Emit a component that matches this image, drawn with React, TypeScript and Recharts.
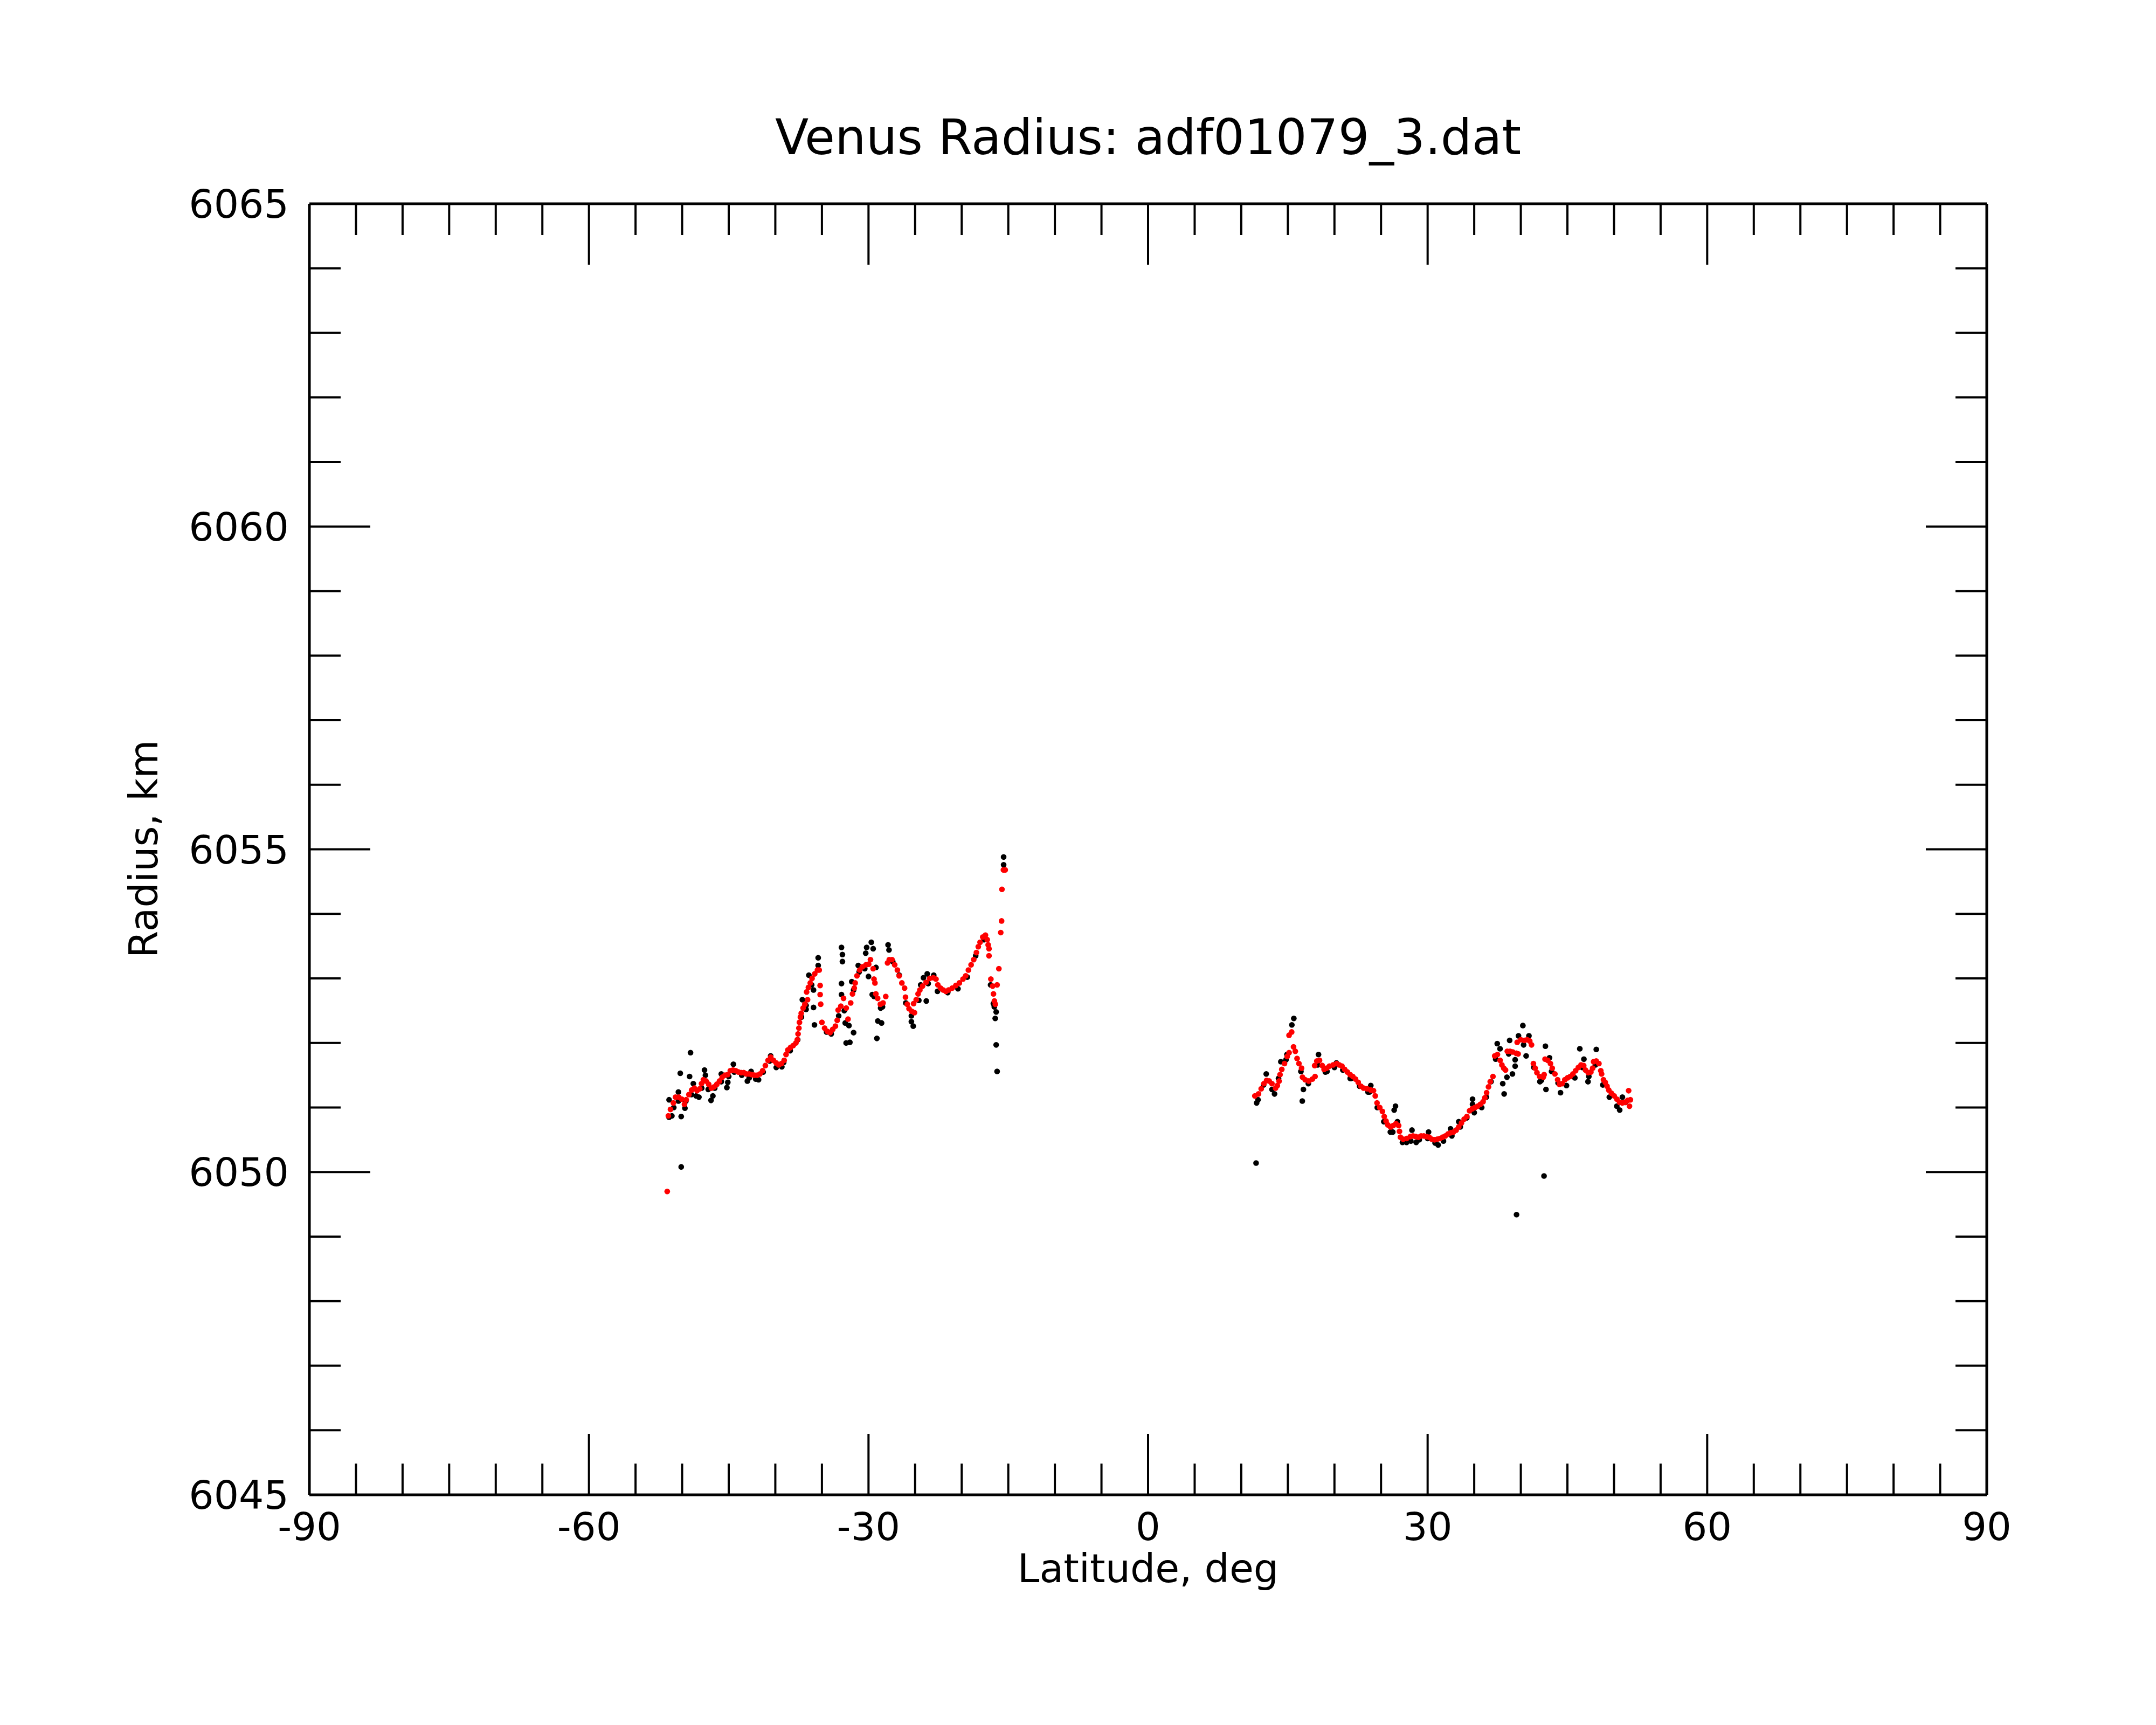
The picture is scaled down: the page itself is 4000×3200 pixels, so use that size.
import { Scatter, ScatterChart, XAxis, YAxis } from "recharts";

// smoothed radius (red), southern pass
const smoothSouth: [number, number][] = [
  [-51.6, 6049.7],
  [-51.48, 6050.87], [-51.25, 6050.97], [-50.94, 6051.07], [-50.71, 6051.16], [-50.37, 6051.16],
  [-50.04, 6051.13], [-49.75, 6051.05], [-49.56, 6051.12], [-49.27, 6051.2], [-48.98, 6051.27],
  [-48.69, 6051.3], [-48.4, 6051.26], [-48.11, 6051.29], [-47.92, 6051.37], [-47.72, 6051.43],
  [-47.43, 6051.41], [-47.15, 6051.36], [-46.86, 6051.3], [-46.57, 6051.32], [-46.28, 6051.36],
  [-45.99, 6051.41], [-45.7, 6051.47], [-45.41, 6051.5], [-45.12, 6051.51], [-44.83, 6051.57],
  [-44.54, 6051.58], [-44.25, 6051.57], [-43.96, 6051.55], [-43.67, 6051.54], [-43.39, 6051.54],
  [-43.1, 6051.52], [-42.81, 6051.52], [-42.52, 6051.51], [-42.23, 6051.5], [-41.94, 6051.5],
  [-41.65, 6051.52], [-41.36, 6051.57], [-41.07, 6051.65], [-40.78, 6051.73], [-40.49, 6051.78],
  [-40.2, 6051.73], [-39.91, 6051.69], [-39.63, 6051.66], [-39.34, 6051.68], [-39.05, 6051.73],
  [-38.85, 6051.82], [-38.66, 6051.89], [-38.37, 6051.93], [-38.08, 6051.96], [-37.79, 6052.0],
  [-37.64, 6052.05], [-37.56, 6052.14], [-37.47, 6052.23], [-37.41, 6052.32], [-37.31, 6052.4],
  [-37.22, 6052.46], [-37.02, 6052.54], [-36.83, 6052.6], [-36.54, 6052.67], [-36.64, 6052.79],
  [-36.45, 6052.86], [-36.25, 6052.93], [-36.06, 6053.0], [-35.77, 6053.07], [-35.48, 6053.13],
  [-35.29, 6053.13], [-35.19, 6052.89], [-35.19, 6052.75], [-35.13, 6052.6], [-35.0, 6052.32],
  [-34.71, 6052.23], [-34.42, 6052.18], [-34.13, 6052.16], [-33.84, 6052.21], [-33.55, 6052.26],
  [-33.36, 6052.35], [-33.26, 6052.51],
  [-32.97, 6052.57], [-32.68, 6052.69], [-32.39, 6052.54], [-32.2, 6052.37], [-31.91, 6052.62],
  [-31.72, 6052.76], [-31.53, 6052.85], [-31.43, 6052.93], [-31.24, 6053.04], [-30.95, 6053.13],
  [-30.66, 6053.18], [-30.27, 6053.21], [-29.98, 6053.22], [-29.79, 6053.29], [-29.5, 6053.15],
  [-29.41, 6052.99], [-29.31, 6052.93], [-29.21, 6052.76], [-29.02, 6052.69], [-28.73, 6052.6],
  [-28.44, 6052.62], [-28.15, 6052.72], [-27.96, 6053.24], [-27.77, 6053.29], [-27.48, 6053.29],
  [-27.19, 6053.21], [-26.9, 6053.13], [-26.71, 6053.04], [-26.42, 6052.93], [-26.13, 6052.85],
  [-26.03, 6052.71], [-25.84, 6052.6], [-25.65, 6052.53], [-25.36, 6052.49], [-25.07, 6052.47],
  [-25.16, 6052.61], [-24.88, 6052.67], [-24.68, 6052.76], [-24.49, 6052.82], [-24.2, 6052.88],
  [-23.82, 6052.94], [-23.43, 6053.0], [-23.04, 6053.01], [-22.76, 6052.99], [-22.56, 6052.9],
  [-22.27, 6052.85], [-21.98, 6052.82], [-21.7, 6052.8], [-21.41, 6052.82], [-21.02, 6052.85],
  [-20.63, 6052.89], [-20.25, 6052.93], [-19.86, 6052.99], [-19.57, 6053.04], [-19.28, 6053.13],
  [-18.99, 6053.21], [-18.71, 6053.29], [-18.42, 6053.4], [-18.22, 6053.49], [-18.03, 6053.56],
  [-17.74, 6053.64], [-17.45, 6053.67], [-17.26, 6053.6], [-17.16, 6053.52], [-17.07, 6053.46],
  [-17.07, 6053.35], [-16.87, 6052.99], [-16.68, 6052.88], [-16.59, 6052.76], [-16.49, 6052.65],
  [-16.39, 6052.6], [-16.2, 6052.9], [-16.01, 6053.15], [-15.81, 6053.71], [-15.72, 6053.89],
  [-15.68, 6054.38], [-15.52, 6054.68], [-15.33, 6054.68],
];

// smoothed radius (red), northern pass
const smoothNorth: [number, number][] = [
  [11.46, 6051.18], [11.85, 6051.21], [12.14, 6051.29], [12.43, 6051.37], [12.72, 6051.42],
  [13.0, 6051.41], [13.29, 6051.37], [13.68, 6051.3], [13.87, 6051.34], [14.06, 6051.41],
  [14.16, 6051.51], [14.35, 6051.59], [14.64, 6051.68], [14.93, 6051.79], [15.13, 6051.85],
  [15.13, 6052.12], [15.41, 6052.17], [15.61, 6051.94], [15.8, 6051.87], [15.99, 6051.76],
  [16.19, 6051.68], [16.47, 6051.61], [16.57, 6051.47], [16.86, 6051.43], [17.25, 6051.41],
  [17.63, 6051.44], [17.92, 6051.48], [17.88, 6051.65], [18.11, 6051.72], [18.4, 6051.73],
  [18.69, 6051.65], [18.89, 6051.59], [19.17, 6051.61], [19.46, 6051.64], [19.85, 6051.66],
  [20.23, 6051.68], [20.52, 6051.66], [20.81, 6051.64], [21.1, 6051.59], [21.39, 6051.55],
  [21.68, 6051.51], [21.97, 6051.48], [22.26, 6051.44], [22.55, 6051.39], [22.84, 6051.33],
  [23.13, 6051.3], [23.51, 6051.29], [23.9, 6051.27], [24.19, 6051.26], [24.38, 6051.18],
  [24.57, 6051.07], [24.86, 6051.0], [25.15, 6050.94], [25.34, 6050.86], [25.54, 6050.79],
  [25.73, 6050.73], [26.02, 6050.7], [26.31, 6050.72], [26.6, 6050.75], [26.89, 6050.72],
  [26.98, 6050.63], [27.08, 6050.54], [27.37, 6050.51], [27.75, 6050.52], [28.14, 6050.55],
  [28.43, 6050.56], [28.72, 6050.55], [29.01, 6050.54], [29.3, 6050.56], [29.59, 6050.56],
  [29.87, 6050.55], [30.16, 6050.54], [30.45, 6050.51], [30.74, 6050.5], [31.03, 6050.51],
  [31.32, 6050.52], [31.61, 6050.54], [31.9, 6050.56], [32.19, 6050.59], [32.48, 6050.61],
  [32.77, 6050.62], [33.06, 6050.65], [33.34, 6050.7], [33.63, 6050.76], [33.92, 6050.82],
  [34.21, 6050.86], [34.5, 6050.95], [34.79, 6050.98], [35.08, 6051.0], [35.37, 6051.02],
  [35.66, 6051.05], [35.95, 6051.09], [36.14, 6051.15], [36.33, 6051.23], [36.53, 6051.32],
  [36.72, 6051.4], [37.01, 6051.48], [37.2, 6051.8], [37.49, 6051.82], [37.78, 6051.73],
  [37.97, 6051.66], [38.17, 6051.61], [38.36, 6051.58], [38.55, 6051.87], [38.84, 6051.87],
  [39.13, 6051.86], [39.51, 6051.84], [39.71, 6051.83],
  [39.61, 6052.01], [40.0, 6052.05], [40.38, 6052.04], [40.67, 6052.05], [40.96, 6052.03],
  [41.15, 6051.97], [41.35, 6051.68], [41.54, 6051.61], [41.73, 6051.54], [42.02, 6051.48],
  [42.41, 6051.47], [42.5, 6051.51], [42.6, 6051.75], [42.89, 6051.73], [43.18, 6051.68],
  [43.37, 6051.61], [43.66, 6051.52], [43.95, 6051.43], [44.14, 6051.36], [44.43, 6051.37],
  [44.72, 6051.43], [45.01, 6051.46], [45.3, 6051.48], [45.59, 6051.52], [45.88, 6051.57],
  [46.17, 6051.62], [46.46, 6051.66], [46.75, 6051.65], [46.94, 6051.58], [47.23, 6051.54],
  [47.52, 6051.55], [47.71, 6051.61], [47.81, 6051.71], [48.09, 6051.72], [48.38, 6051.68],
  [48.58, 6051.57], [48.67, 6051.52], [48.87, 6051.43], [49.06, 6051.39], [49.25, 6051.33],
  [49.44, 6051.27], [49.73, 6051.22], [50.02, 6051.18], [50.31, 6051.13], [50.6, 6051.08],
  [50.89, 6051.07], [51.18, 6051.08], [51.47, 6051.11], [51.57, 6051.26], [51.76, 6051.12],
  [51.66, 6051.02],
];

// raw radius (black), southern pass
const rawSouth: [number, number][] = [
  [-51.4, 6051.12], [-51.1, 6050.87], [-50.2, 6051.53], [-50.1, 6050.86], [-50.1, 6050.08],
  [-50.4, 6051.24], [-49.7, 6050.99], [-49.2, 6051.48], [-49.1, 6051.85], [-48.8, 6051.37],
  [-48.2, 6051.16], [-47.6, 6051.58], [-47.5, 6051.5], [-46.9, 6051.11], [-46.7, 6051.18],
  [-45.8, 6051.52], [-45.2, 6051.31], [-45.1, 6051.39], [-44.5, 6051.67], [-43.0, 6051.41],
  [-42.6, 6051.56], [-41.8, 6051.43], [-40.5, 6051.8], [-39.3, 6051.63], [-37.1, 6052.67],
  [-36.7, 6052.52], [-36.4, 6053.05], [-35.9, 6052.82], [-35.9, 6052.55], [-35.8, 6052.28],
  [-35.4, 6053.32], [-35.4, 6053.2], [-32.9, 6052.92], [-32.9, 6053.48], [-32.8, 6053.37],
  [-32.8, 6053.26], [-32.9, 6052.75], [-32.5, 6052.31], [-32.4, 6052.0], [-32.0, 6052.01],
  [-32.1, 6052.27], [-31.8, 6052.95], [-31.6, 6052.16], [-31.1, 6053.2], [-30.3, 6053.39],
  [-30.2, 6053.48], [-30.0, 6053.03], [-29.7, 6053.56], [-29.5, 6053.46], [-29.2, 6053.17],
  [-29.6, 6052.75], [-29.0, 6052.34], [-28.6, 6052.31], [-29.1, 6052.07], [-28.5, 6052.56],
  [-27.9, 6053.52], [-27.8, 6053.44], [-25.4, 6052.33], [-25.2, 6052.26], [-24.4, 6052.9],
  [-24.1, 6053.01], [-23.8, 6052.65], [-23.7, 6053.07], [-23.0, 6053.05], [-16.6, 6052.61],
  [-16.3, 6052.48], [-16.4, 6052.38], [-16.3, 6051.97], [-16.2, 6051.56], [-15.5, 6054.88],
  [-15.5, 6054.76],
  [-51.4, 6050.85], [-50.9, 6051.0], [-50.4, 6051.1], [-49.6, 6051.1], [-49.0, 6051.2],
  [-48.5, 6051.18], [-47.9, 6051.3], [-47.2, 6051.28], [-46.5, 6051.3], [-45.8, 6051.4],
  [-45.0, 6051.48], [-44.4, 6051.55], [-43.6, 6051.5], [-42.8, 6051.46], [-42.1, 6051.44],
  [-41.3, 6051.55], [-40.6, 6051.72], [-39.9, 6051.62], [-39.1, 6051.7], [-38.4, 6051.88],
  [-37.6, 6052.05], [-37.2, 6052.4], [-36.7, 6052.58], [-36.1, 6052.9], [-34.5, 6052.17],
  [-34.0, 6052.14], [-33.2, 6052.42], [-32.6, 6052.5], [-31.6, 6052.82], [-31.0, 6053.1],
  [-30.4, 6053.15], [-29.4, 6052.72], [-28.7, 6052.54], [-27.4, 6053.26], [-26.7, 6053.05],
  [-26.0, 6052.62], [-25.4, 6052.42], [-24.6, 6052.66], [-23.6, 6052.92], [-22.6, 6052.8],
  [-21.5, 6052.78], [-20.4, 6052.84], [-19.4, 6053.02], [-18.5, 6053.35], [-17.6, 6053.6],
  [-16.9, 6052.9], [-16.5, 6052.56],
];

// raw radius (black), northern pass
const rawNorth: [number, number][] = [
  [11.59, 6050.14], [11.65, 6051.07], [12.68, 6051.52], [13.57, 6051.21], [14.25, 6051.71],
  [14.9, 6051.82], [15.43, 6052.28], [15.64, 6052.38], [16.67, 6051.28], [16.55, 6051.1],
  [18.29, 6051.82], [19.03, 6051.55], [20.21, 6051.69], [21.69, 6051.45], [23.9, 6051.34],
  [23.75, 6051.24], [26.41, 6050.96], [26.55, 6051.02], [26.76, 6050.78], [26.26, 6050.62],
  [27.74, 6050.46], [28.32, 6050.65], [28.77, 6050.46], [30.1, 6050.62], [31.13, 6050.42],
  [32.46, 6050.67], [33.34, 6050.78], [34.82, 6051.13], [34.82, 6051.05], [37.47, 6051.99],
  [37.77, 6051.91], [38.06, 6051.37], [38.21, 6051.21], [38.51, 6051.47], [38.8, 6052.04],
  [39.1, 6051.52], [39.39, 6051.64], [39.39, 6051.74], [39.54, 6049.34], [39.75, 6052.11],
  [40.22, 6052.27], [40.57, 6051.8], [40.87, 6052.11], [42.05, 6051.4], [42.49, 6049.94],
  [42.64, 6051.95], [42.7, 6051.28], [43.08, 6051.77], [44.26, 6051.23], [46.33, 6051.91],
  [46.77, 6051.75], [47.21, 6051.4], [48.1, 6051.9], [50.61, 6050.96], [50.9, 6051.16],
  [11.8, 6051.12], [12.4, 6051.35], [13.3, 6051.28], [14.0, 6051.45], [14.8, 6051.74],
  [16.4, 6051.56], [17.2, 6051.37], [18.2, 6051.66], [19.2, 6051.56], [20.0, 6051.62],
  [20.9, 6051.58], [21.8, 6051.45], [22.7, 6051.33], [23.6, 6051.24], [24.6, 6051.0],
  [25.3, 6050.78], [26.0, 6050.62], [27.3, 6050.46], [28.2, 6050.48], [29.1, 6050.5],
  [30.0, 6050.52], [30.8, 6050.45], [31.7, 6050.48], [32.6, 6050.56], [33.5, 6050.7],
  [34.2, 6050.84], [35.0, 6050.92], [35.8, 6051.0], [36.3, 6051.16], [36.8, 6051.4],
  [37.3, 6051.75], [38.7, 6051.83], [40.3, 6051.97], [41.4, 6051.62], [42.2, 6051.42],
  [43.3, 6051.56], [44.0, 6051.38], [44.9, 6051.34], [45.8, 6051.46], [46.6, 6051.62],
  [47.3, 6051.48], [48.0, 6051.66], [48.8, 6051.35], [49.5, 6051.16], [50.3, 6051.02],
  [51.2, 6051.08],
];

const latTicks = [
  -90, -85, -80, -75, -70, -65, -60, -55, -50, -45, -40, -35, -30, -25, -20, -15, -10, -5, 0,
  5, 10, 15, 20, 25, 30, 35, 40, 45, 50, 55, 60, 65, 70, 75, 80, 85, 90,
];
const latLabels = [-90, -60, -30, 0, 30, 60, 90];
const radTicks = [
  6045, 6046, 6047, 6048, 6049, 6050, 6051, 6052, 6053, 6054, 6055,
  6056, 6057, 6058, 6059, 6060, 6061, 6062, 6063, 6064, 6065,
];
const radLabels = [6045, 6050, 6055, 6060, 6065];

const FONT = "DejaVu Sans";
const MAJOR = 113;
const MINOR = 58;

const toPoints = (rows: [number, number][]) => rows.map(([lat, r]) => ({ lat, r }));
const raw = toPoints([...rawSouth, ...rawNorth]);
const smooth = toPoints([...smoothSouth, ...smoothNorth]);

const dot = (color: string) => (props: any) =>
  <circle cx={props.cx} cy={props.cy} r={5.3} fill={color} />;
const nothing = () => <g />;

const BottomTick = ({ x, y, payload }: any) => {
  const major = latLabels.includes(payload.value);
  return (
    <g>
      <line x1={x} x2={x} y1={y} y2={y - (major ? MAJOR : MINOR)} stroke="#000" strokeWidth={4} />
      {major && (
        <text x={x} y={y + 84} textAnchor="middle" fontSize={72} fontFamily={FONT} fill="#000">
          {payload.value}
        </text>
      )}
    </g>
  );
};

const TopTick = ({ x, y, payload }: any) => {
  const major = latLabels.includes(payload.value);
  return <line x1={x} x2={x} y1={y} y2={y + (major ? MAJOR : MINOR)} stroke="#000" strokeWidth={4} />;
};

const LeftTick = ({ x, y, payload }: any) => {
  const major = radLabels.includes(payload.value);
  return (
    <g>
      <line x1={x} x2={x + (major ? MAJOR : MINOR)} y1={y} y2={y} stroke="#000" strokeWidth={4} />
      {major && (
        <text x={x - 38} y={y + 26} textAnchor="end" fontSize={73} fontFamily={FONT} fill="#000">
          {payload.value}
        </text>
      )}
    </g>
  );
};

const RightTick = ({ x, y, payload }: any) => {
  const major = radLabels.includes(payload.value);
  return <line x1={x} x2={x - (major ? MAJOR : MINOR)} y1={y} y2={y} stroke="#000" strokeWidth={4} />;
};

const frame = { stroke: "#000", strokeWidth: 5 };

export default function App() {
  return (
    <div style={{ position: "absolute", left: 0, top: 0, width: 4000, height: 3200, background: "#fff" }}>
      <ScatterChart width={4000} height={3200} margin={{ top: 278, right: 214, bottom: 227, left: 374 }}>
        <XAxis
          xAxisId="b"
          type="number"
          dataKey="lat"
          domain={[-90, 90]}
          ticks={latTicks}
          interval={0}
          height={200}
          tickSize={0}
          tickMargin={0}
          axisLine={frame}
          tick={BottomTick}
        />
        <XAxis
          xAxisId="t"
          orientation="top"
          type="number"
          dataKey="lat"
          domain={[-90, 90]}
          ticks={latTicks}
          interval={0}
          height={100}
          tickSize={0}
          tickMargin={0}
          axisLine={frame}
          tick={TopTick}
        />
        <YAxis
          yAxisId="l"
          type="number"
          dataKey="r"
          domain={[6045, 6065]}
          ticks={radTicks}
          interval={0}
          width={200}
          tickSize={0}
          tickMargin={0}
          axisLine={frame}
          tick={LeftTick}
        />
        <YAxis
          yAxisId="r"
          orientation="right"
          type="number"
          dataKey="r"
          domain={[6045, 6065]}
          ticks={radTicks}
          interval={0}
          width={100}
          tickSize={0}
          tickMargin={0}
          axisLine={frame}
          tick={RightTick}
        />
        {/* invisible series so the top and right axes get drawn */}
        <Scatter xAxisId="t" yAxisId="r" data={smooth} shape={nothing} isAnimationActive={false} />
        <Scatter xAxisId="b" yAxisId="l" data={raw} shape={dot("#000")} isAnimationActive={false} />
        <Scatter xAxisId="b" yAxisId="l" data={smooth} shape={dot("#ff0000")} isAnimationActive={false} />
      </ScatterChart>
      <svg
        width={4000}
        height={3200}
        style={{ position: "absolute", left: 0, top: 0, pointerEvents: "none" }}
        fontFamily={FONT}
      >
        <text x={2130} y={286} textAnchor="middle" fontSize={91} fill="#000">
          Venus Radius: adf01079_3.dat
        </text>
        <text x={2130} y={2935} textAnchor="middle" fontSize={73} fill="#000">
          Latitude, deg
        </text>
        <text x={292} y={1575} textAnchor="middle" fontSize={73} fill="#000" transform="rotate(-90 292 1575)">
          Radius, km
        </text>
      </svg>
    </div>
  );
}
